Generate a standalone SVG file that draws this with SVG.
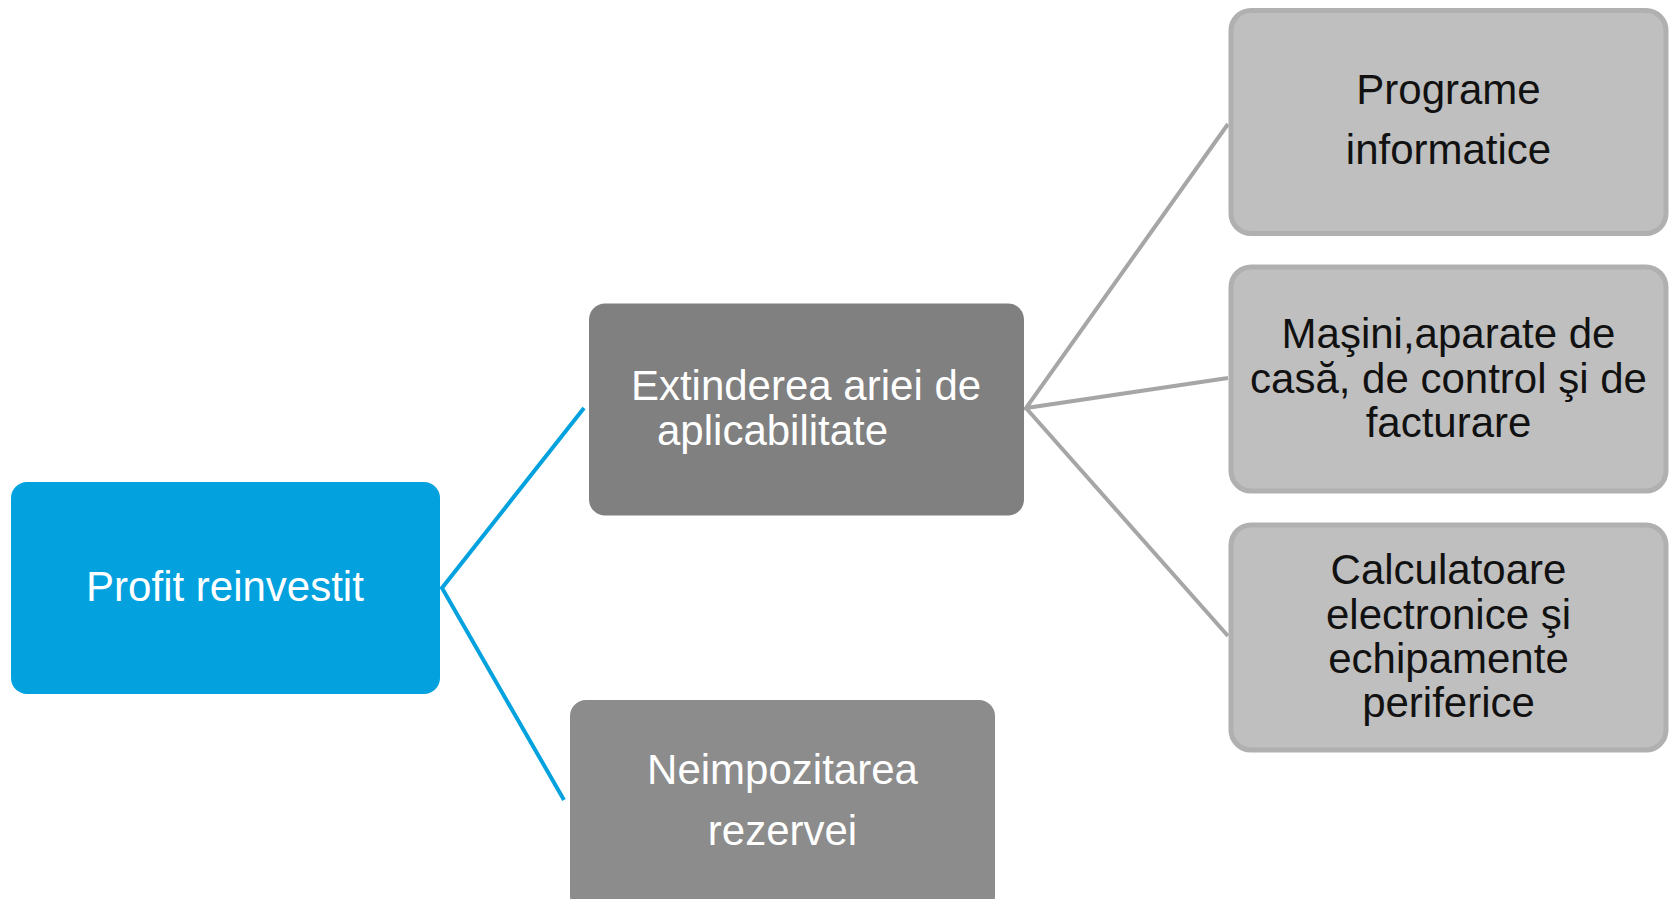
<svg xmlns="http://www.w3.org/2000/svg" width="1670" height="899" viewBox="0 0 1670 899">
<style>
.t{font-family:"Liberation Sans",Arial,sans-serif;font-size:42px;text-anchor:middle}
.w{fill:#ffffff}
.k{fill:#111111}
.leaf{fill:#BFBFBF;stroke:#B0B0B0;stroke-width:5}
.bl{stroke:#03A2DF;stroke-width:4;fill:none}
.gr{stroke:#A6A6A6;stroke-width:4;fill:none}
</style>
<rect width="1670" height="899" fill="#ffffff"/>
<g id="connectors">
<polyline class="bl" points="584,408 442,588 564,800"/>
<polyline class="gr" points="1228,124 1026,408 1228,378"/>
<polyline class="gr" points="1026,408 1228,636"/>
</g>
<g id="root">
<rect x="11" y="482" width="429" height="212" rx="16" fill="#03A2DF"/>
<text class="t w" x="225" y="601">Profit reinvestit</text>
</g>
<g id="extinderea">
<rect x="589" y="303.5" width="435" height="212" rx="16" fill="#808080"/>
<text class="t w" x="806" y="400">Extinderea ariei de</text>
<text class="t w" x="657" y="445" style="text-anchor:start">aplicabilitate</text>
</g>
<g id="neimpozitarea">
<rect x="570" y="700" width="425" height="212" rx="16" fill="#8C8C8C"/>
<text class="t w" x="782.5" y="784">Neimpozitarea</text>
<text class="t w" x="782.5" y="845">rezervei</text>
</g>
<g id="programe">
<rect class="leaf" x="1231" y="10.5" width="435" height="223" rx="20"/>
<text class="t k" x="1448.5" y="104">Programe</text>
<text class="t k" x="1448.5" y="164">informatice</text>
</g>
<g id="masini">
<rect class="leaf" x="1231" y="267" width="435" height="224" rx="20"/>
<text class="t k" x="1448.5" y="348">Maşini,aparate de</text>
<text class="t k" x="1448.5" y="392.5">casă, de control şi de</text>
<text class="t k" x="1448.5" y="437">facturare</text>
</g>
<g id="calculatoare">
<rect class="leaf" x="1231" y="525" width="435" height="225" rx="20"/>
<text class="t k" x="1448.5" y="584">Calculatoare</text>
<text class="t k" x="1448.5" y="628.5">electronice şi</text>
<text class="t k" x="1448.5" y="673">echipamente</text>
<text class="t k" x="1448.5" y="717">periferice</text>
</g>
</svg>
